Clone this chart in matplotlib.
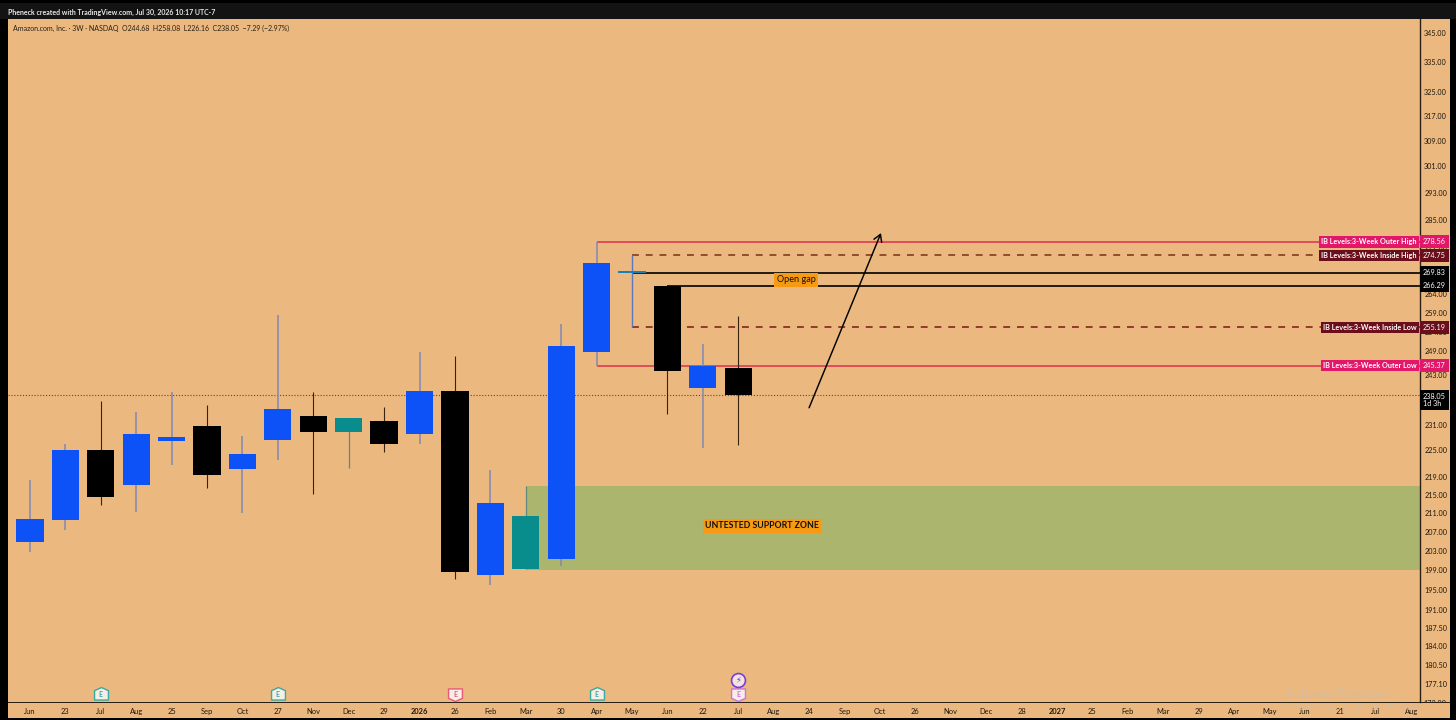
import matplotlib
matplotlib.use("Agg")
import matplotlib.pyplot as plt
from matplotlib.patches import Rectangle
from matplotlib.path import Path
from matplotlib.transforms import Bbox

plt.rcParams['font.family'] = ['Lato', 'DejaVu Sans']

x_labels = ['Jun', '23', 'Jul', 'Aug', '25', 'Sep', 'Oct', '27', 'Nov', 'Dec', '29', '2026', '26', 'Feb',
            'Mar', '30', 'Apr', 'May', 'Jun', '22', 'Jul', 'Aug', '24', 'Sep', 'Oct', '26', 'Nov', 'Dec',
            '28', '2027', '25', 'Feb', 'Mar', '29', 'Apr', 'May', 'Jun', '21', 'Jul', 'Aug']

opens = [204.8, 209.5, 225.1, 217.1, 227.1, 230.7, 220.7, 227.4, 233.0, 229.2, 231.8, 228.8, 239.2,
         198.0, 199.2, 201.2, 248.9, 269.8, 266.3, 239.8, 244.7]
closes = [209.7, 225.1, 214.5, 228.8, 228.1, 219.4, 224.1, 234.7, 229.2, 232.6, 226.4, 239.1, 198.6,
          213.1, 210.3, 250.4, 272.6, 270.4, 244.0, 245.3, 238.05]
highs = [218.2, 226.4, 236.6, 234.0, 238.8, 235.7, 228.3, 258.5, 238.8, 232.6, 235.2, 248.8, 247.8,
         220.5, 216.9, 256.1, 278.56, 274.75, 266.3, 250.9, 258.08]
lows = [202.7, 207.3, 212.7, 211.2, 221.6, 216.5, 211.0, 222.8, 215.1, 220.9, 224.6, 226.4, 197.2,
        196.0, 199.2, 199.8, 245.37, 255.19, 233.5, 225.5, 226.16]
candle_colors = ['blue', 'blue', 'black', 'blue', 'blue', 'black', 'blue', 'blue', 'black', 'teal', 'black',
                 'blue', 'black', 'blue', 'teal', 'blue', 'blue', 'sky', 'black', 'blue', 'black']

price_ticks = [345, 335, 325, 317, 309, 301, 293, 285, 277, 264, 259, 254, 249, 243, 231, 225,
               219, 215, 211, 207, 203, 199, 195, 191, 187.5, 184, 180.5, 177.1]

outer_high, inner_high, gap_top, gap_bottom = 278.56, 274.75, 269.83, 266.29
inner_low, outer_low, last_price = 255.19, 245.37, 238.05
zone_top, zone_bottom = 216.9, 199.0

BG = '#EBB87F'
BODY = {'blue': '#0D52F7', 'black': '#000000', 'teal': '#088C8C', 'sky': '#1B80B8'}
WICK = {'blue': '#8088B4', 'black': '#3A2410', 'teal': '#5F8A80', 'sky': '#5A78C0'}
WICK_LW = {'blue': 1.1, 'black': 0.8, 'teal': 0.9, 'sky': 1.0}
PINK = '#E3176A'
MAROON = '#6B0E1B'
TICK_COL = '#1E160C'

fig = plt.figure(figsize=(14.56, 7.2), dpi=100, facecolor='#000000')
W, H = 1456, 720


def add_px_rect(x0, y0, x1, y1, color, z=0):
    fig.patches.append(Rectangle((x0 / W, 1 - y1 / H), (x1 - x0) / W, (y1 - y0) / H,
                                 transform=fig.transFigure, color=color, lw=0, zorder=z))


add_px_rect(0, 3, 1456, 19, '#131313')
add_px_rect(8, 19, 1450, 718, BG)
add_px_rect(8, 702, 1450, 703, '#2A2015', 1)

ax = fig.add_axes([8 / W, 1 - 702 / H, (1420 - 8) / W, (702 - 19) / H])
ax.set_zorder(2)
ax.patch.set_alpha(0)
ax.set_yscale('log')
ax.set_xlim(-0.62, 39.25)
ax.set_ylim(173.8, 350.1)
for side in ['top', 'left', 'bottom']:
    ax.spines[side].set_visible(False)
ax.spines['right'].set_color('#2A2015')
ax.spines['right'].set_linewidth(1)

# support zone
ax.fill_between([14, 39.25], zone_bottom, zone_top, color='#ABB56E', lw=0, zorder=1)

# levels
ax.hlines(last_price, -0.62, 39.25, color='#6B4A25', lw=0.8, ls=(0, (1, 1.6)), zorder=1.5)
ax.hlines(outer_high, 16, 39.25, color='#E0304E', lw=1.1, zorder=2)
ax.hlines(outer_low, 16, 39.25, color='#E0304E', lw=1.1, zorder=2)
ax.hlines(inner_high, 17, 39.25, color='#7A3014', lw=1.1, ls=(0, (4.5, 4.5)), zorder=2)
ax.hlines(inner_low, 17, 39.25, color='#7E1616', lw=1.1, ls=(0, (4.5, 4.5)), zorder=2)
ax.hlines(gap_top, 17, 39.25, color='#000000', lw=1.2, zorder=2)
ax.hlines(gap_bottom, 18, 39.25, color='#000000', lw=1.2, zorder=2)

# candles
for i in range(len(opens)):
    c = candle_colors[i]
    ax.vlines(i, lows[i], highs[i], color=WICK[c], lw=WICK_LW[c], zorder=3)
    lo, hi = min(opens[i], closes[i]), max(opens[i], closes[i])
    ax.bar(i, hi - lo, bottom=lo, width=0.77, color=BODY[c], lw=0, zorder=4)

# projection arrow
ax.annotate('', xy=(24.03, 281.1), xytext=(22, 235),
            arrowprops=dict(arrowstyle='->,head_length=0.5,head_width=0.3', color='#000000', lw=1.05,
                            shrinkA=0, shrinkB=0), zorder=5)

ax.text(21.63, 267.9, 'Open gap', ha='center', va='center', fontsize=6.6, color='#111111', zorder=6,
        bbox=dict(boxstyle='square,pad=0.25', fc='#F79A12', ec='none'))
ax.text(20.67, 208.2, 'UNTESTED SUPPORT ZONE', ha='center', va='center', fontsize=6.3, fontweight='bold',
        color='#111111', zorder=6, bbox=dict(boxstyle='square,pad=0.25', fc='#F79A12', ec='none'))

# axes ticks
ax.yaxis.tick_right()
ax.set_yticks(price_ticks)
ax.set_yticklabels(['%.2f' % p for p in price_ticks], fontsize=5.2, color=TICK_COL)
ax.minorticks_off()
ax.tick_params(axis='y', which='both', length=0, pad=3)
ax.set_xticks(range(len(x_labels)))
ax.set_xticklabels(x_labels, fontsize=5.4, color=TICK_COL)
ax.tick_params(axis='x', which='both', length=0, pad=4)
for lab in ax.get_xticklabels():
    if lab.get_text() in ('2026', '2027'):
        lab.set_fontweight('bold')

# half hidden bottom tick label, cut by the date axis line
ytrans = ax.get_yaxis_transform()
t = ax.text(1.0021, 173.6, '172.90', transform=ytrans, fontsize=5.2, color=TICK_COL, va='center', clip_on=True)
t.set_clip_box(Bbox([[1420, 18.5], [1450, 720]]))

# level tags
tags = [(outer_high, 'IB Levels:3-Week Outer High', PINK),
        (inner_high, 'IB Levels:3-Week Inside High', MAROON),
        (inner_low, 'IB Levels:3-Week Inside Low', MAROON),
        (outer_low, 'IB Levels:3-Week Outer Low', PINK)]
for price, name, col in tags:
    ax.text(0.9976, price, name, transform=ytrans, ha='right', va='center', fontsize=5.2, color='#FFFFFF',
            fontweight='bold', zorder=7, bbox=dict(boxstyle='square,pad=0.32', fc=col, ec='none'))
    ax.text(1.0021, price, '%.2f' % price, transform=ytrans, ha='left', va='center', fontsize=5.2, color='#FFFFFF',
            zorder=7, clip_on=False, bbox=dict(boxstyle='square,pad=0.42', fc=col, ec='none'))
for price in [gap_top, gap_bottom]:
    ax.text(1.0021, price, '%.2f' % price, transform=ytrans, ha='left', va='center', fontsize=5.2, color='#FFFFFF',
            zorder=7, bbox=dict(boxstyle='square,pad=0.42', fc='#000000', ec='none'))
ax.text(1.0021, 236.9, '%.2f\n1d 3h' % last_price, transform=ytrans, ha='left', va='center', fontsize=5.2,
        color='#FFFFFF', zorder=7, linespacing=1.1, bbox=dict(boxstyle='square,pad=0.42', fc='#000000', ec='none'))

# earnings badges
badge = Path([(-1, -0.8), (1, -0.8), (1, 0.55), (0, 1), (-1, 0.55), (-1, -0.8)], closed=True)
badge_down = Path([(-1, 0.8), (1, 0.8), (1, -0.55), (0, -1), (-1, -0.55), (-1, 0.8)], closed=True)
xtrans = ax.get_xaxis_transform()
for i, path, col in [(2, badge, '#3DA8A0'), (7, badge, '#3DA8A0'), (16, badge, '#3DA8A0'),
                     (12, badge_down, '#E8587A'), (20, badge_down, '#D070E0')]:
    ax.plot([i], [0.0117], marker=path, ms=10, mfc='#F6EFE6', mec=col, mew=1, transform=xtrans,
            clip_on=False, zorder=6, ls='none')
    ax.text(i, 0.0117, 'E', transform=xtrans, ha='center', va='center', fontsize=5, color=col, zorder=7,
            fontweight='bold')
ax.plot([20], [0.032], marker='o', ms=10, mfc='#F3E4E0', mec='#7A3FD0', mew=1.2, transform=xtrans, zorder=6, ls='none')
ax.text(20, 0.032, '\u26A1', transform=xtrans, ha='center', va='center', fontsize=6, color='#6A2FC8',
        family='DejaVu Sans', zorder=7)

# header text
fig.text(8.5 / W, 1 - 12 / H, 'Pheneck created with TradingView.com, Jul 30, 2026 10:17 UTC-7', fontsize=5.05,
         color='#E8E8E8', va='center', fontweight='bold')
fig.text(13 / W, 1 - 28.5 / H, 'Amazon.com, Inc. · 3W · NASDAQ  O244.68  H258.08  L226.16  C238.05  \u22127.29 (\u22122.97%)',
         fontsize=5.0, color='#2A2015', va='center')

# windows watermark
fig.text(1286 / W, 1 - 694 / H, 'Activate Windows', fontsize=9.0, color='#D6BC9E', va='center', zorder=10)
fig.text(1286 / W, 1 - 708 / H, 'Go to Settings to activate Windows.', fontsize=6.2, color='#D6BC9E', va='center',
         zorder=10)

fig.savefig('out.png', dpi=100, facecolor=fig.get_facecolor())
